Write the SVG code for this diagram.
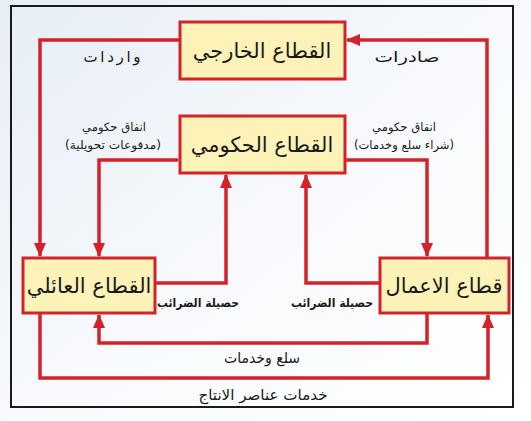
<svg xmlns="http://www.w3.org/2000/svg" width="531" height="421" viewBox="0 0 531 421">
<defs>
<linearGradient id="bg" x1="0" y1="0" x2="1" y2="1">
<stop offset="0" stop-color="#e6eef6"/>
<stop offset="0.5" stop-color="#f7f9fc"/>
<stop offset="1" stop-color="#ffffff"/>
</linearGradient>
<marker id="ah" viewBox="0 0 14 12" refX="13" refY="6" markerWidth="14" markerHeight="12" markerUnits="userSpaceOnUse" orient="auto">
<path d="M0,0 L14,6 L0,12 Z" fill="#d3222a"/>
</marker>
<style>
.box{fill:#fdf3b8;stroke:#d3222a;stroke-width:3}
.bt{font-family:"DejaVu Sans",sans-serif;font-size:21px;fill:#1a1a1a;text-anchor:middle}
.ln{fill:none;stroke:#d3222a;stroke-width:3.5;marker-end:url(#ah)}
.lb{font-family:"DejaVu Sans",sans-serif;font-size:15px;fill:#1a1a1a;text-anchor:middle}
.sm{font-family:"DejaVu Sans",sans-serif;font-size:11.5px;fill:#1a1a1a;text-anchor:middle}
.tx{font-family:"DejaVu Sans",sans-serif;font-size:12px;font-weight:bold;fill:#1a1a1a;text-anchor:middle}
</style>
</defs>
<rect x="0" y="0" width="531" height="421" fill="url(#bg)"/>
<rect x="11" y="6" width="502" height="401" fill="url(#bg)" stroke="#1a1a1a" stroke-width="2"/>

<g id="connectors">
<path class="ln" d="M180,40 H40 V256"/>
<path class="ln" d="M487,258 V40 H347"/>
<path class="ln" d="M178,160 H99 V256"/>
<path class="ln" d="M346,160 H427 V256"/>
<path class="ln" d="M155,283 H226 V175"/>
<path class="ln" d="M380,283 H306 V175"/>
<path class="ln" d="M427,313 V343 H99 V315"/>
<path class="ln" d="M40,313 V378 H488 V315"/>
</g>

<g id="labels">
<text class="lb" x="112" y="62" textLength="57">واردات</text>
<text class="lb" x="407" y="62" textLength="65" lengthAdjust="spacingAndGlyphs">صادرات</text>
<text class="sm" x="114" y="131" textLength="64" lengthAdjust="spacingAndGlyphs">انفاق حكومي</text>
<text class="sm" x="113" y="149" textLength="96" lengthAdjust="spacingAndGlyphs">(مدفوعات تحويلية)</text>
<text class="sm" x="404" y="131" textLength="64" lengthAdjust="spacingAndGlyphs">انفاق حكومي</text>
<text class="sm" x="404" y="149" textLength="100" lengthAdjust="spacingAndGlyphs">(شراء سلع وخدمات)</text>
<text class="tx" x="198" y="307" textLength="82" lengthAdjust="spacingAndGlyphs">حصيلة الضرائب</text>
<text class="tx" x="332" y="307" textLength="82" lengthAdjust="spacingAndGlyphs">حصيلة الضرائب</text>
<text class="lb" x="262" y="363" textLength="76" lengthAdjust="spacingAndGlyphs">سلع وخدمات</text>
<text class="lb" x="263" y="400" textLength="129" lengthAdjust="spacingAndGlyphs">خدمات عناصر الانتاج</text>
</g>

<g id="external">
<rect class="box" x="180" y="22" width="165" height="57"/>
<text class="bt" x="262" y="58">القطاع الخارجي</text>
</g>
<g id="government">
<rect class="box" x="180" y="116" width="165" height="57"/>
<text class="bt" x="262" y="152">القطاع الحكومي</text>
</g>
<g id="household">
<rect class="box" x="23" y="258" width="132" height="55"/>
<text class="bt" x="89" y="293">القطاع العائلي</text>
</g>
<g id="business">
<rect class="box" x="380" y="258" width="129" height="55"/>
<text class="bt" x="444" y="293">قطاع الاعمال</text>
</g>
</svg>
